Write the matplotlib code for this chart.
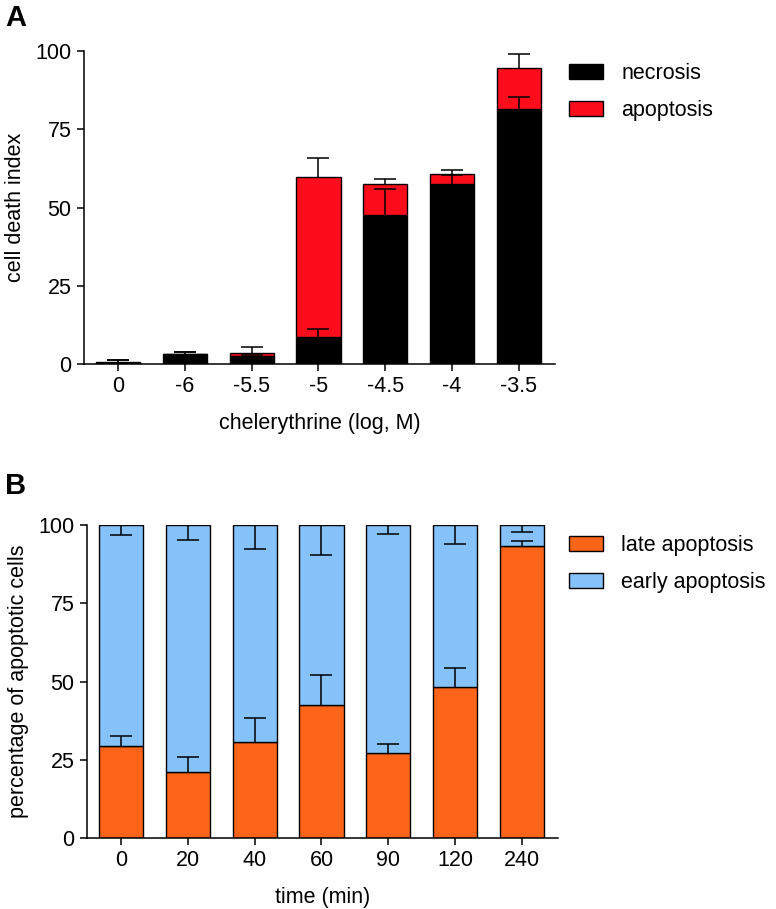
import numpy as np
import matplotlib
matplotlib.use("Agg")
import matplotlib.pyplot as plt

plt.rcParams['font.family'] = ['Liberation Sans', 'DejaVu Sans']

# Panel A data
conc_labels = ['0', '-6', '-5.5', '-5', '-4.5', '-4', '-3.5']
necrosis = [0.4, 3.2, 2.5, 8.7, 47.6, 57.4, 81.6]
necrosis_err = [1.0, 0.6, 0.4, 2.4, 8.4, 3.0, 3.8]
apoptosis = [0.1, 0.1, 1.1, 50.9, 9.8, 3.3, 12.9]
total_err = [0.9, 0.5, 1.7, 6.2, 1.7, 1.3, 4.4]

# Panel B data
time_labels = ['0', '20', '40', '60', '90', '120', '240']
late = [29.5, 21.0, 30.6, 42.4, 27.1, 48.2, 93.4]
late_err = [3.1, 4.8, 7.6, 9.6, 3.0, 6.1, 1.6]
early = [70.5, 79.0, 69.4, 57.6, 72.9, 51.8, 6.6]
early_err = [3.3, 4.7, 7.7, 9.7, 3.0, 6.1, 2.2]

red = '#fc0d1b'
orange = '#fc6419'
blue = '#85c2f9'
fs = 15.5

fig = plt.figure(figsize=(7.76, 9.09), dpi=100)
W, H = 776, 909


def make_ax(left, right, top, bottom):
    return fig.add_axes([left / W, 1 - bottom / H, (right - left) / W, (bottom - top) / H])


def style(ax, labels, xlabel, ylabel):
    x = np.arange(len(labels))
    ax.set_xlim(-0.51, 6.54)
    ax.set_ylim(0, 100)
    ax.set_yticks([0, 25, 50, 75, 100])
    ax.set_xticks(x)
    ax.set_xticklabels(labels)
    for s in ['top', 'right']:
        ax.spines[s].set_visible(False)
    for s in ['left', 'bottom']:
        ax.spines[s].set_linewidth(1.1)
    ax.tick_params(direction='out', length=5, width=1.1, labelsize=fs, pad=4)
    ax.set_xlabel(xlabel, fontsize=fs, labelpad=11)
    ax.set_ylabel(ylabel, fontsize=fs, labelpad=7)


def one_sided_err(ax, x, y, err, up=True):
    zeros = np.zeros(len(err))
    yerr = [zeros, err] if up else [err, zeros]
    _, caps, _ = ax.errorbar(x, y, yerr=yerr, fmt='none', ecolor='black', elinewidth=1.1,
                             capsize=8, capthick=1.1, zorder=4)
    # hide the cap sitting on the bar top
    caps[0 if up else 1].set_visible(False)


# Panel A
axA = make_ax(84, 555, 51, 364)
x = np.arange(len(conc_labels))
nec_top = np.array(necrosis)
tot = nec_top + np.array(apoptosis)
axA.bar(x, necrosis, width=0.66, color='black', edgecolor='black', linewidth=1, label='necrosis', zorder=2)
axA.bar(x, apoptosis, bottom=necrosis, width=0.66, color=red, edgecolor='black', linewidth=1,
        label='apoptosis', zorder=2)
one_sided_err(axA, x, nec_top, necrosis_err)
one_sided_err(axA, x, tot, total_err)
style(axA, conc_labels, 'chelerythrine (log, M)', 'cell death index')
axA.legend(loc='upper left', bbox_to_anchor=(560 / W, 1 - 54 / H), bbox_transform=fig.transFigure,
           frameon=False, fontsize=fs, handlelength=1.6, handleheight=0.7, handletextpad=0.85,
           labelspacing=0.75, borderaxespad=0)
fig.text(5 / W, 1 - 4 / H, 'A', fontsize=21, fontweight='bold', va='top', ha='left')

# Panel B
axB = make_ax(87, 558, 525, 838)
x = np.arange(len(time_labels))
axB.bar(x, late, width=0.66, color=orange, edgecolor='black', linewidth=1, label='late apoptosis', zorder=2)
axB.bar(x, early, bottom=late, width=0.66, color=blue, edgecolor='black', linewidth=1,
        label='early apoptosis', zorder=2)
one_sided_err(axB, x, late, late_err)
top_b = np.array(late) + np.array(early)
one_sided_err(axB, x, top_b, early_err, up=False)
style(axB, time_labels, 'time (min)', 'percentage of apoptotic cells')
axB.legend(loc='upper left', bbox_to_anchor=(560 / W, 1 - 526 / H), bbox_transform=fig.transFigure,
           frameon=False, fontsize=fs, handlelength=1.6, handleheight=0.7, handletextpad=0.85,
           labelspacing=0.75, borderaxespad=0)
fig.text(5 / W, 1 - 472 / H, 'B', fontsize=21, fontweight='bold', va='top', ha='left')

fig.savefig('out.png', dpi=100)
